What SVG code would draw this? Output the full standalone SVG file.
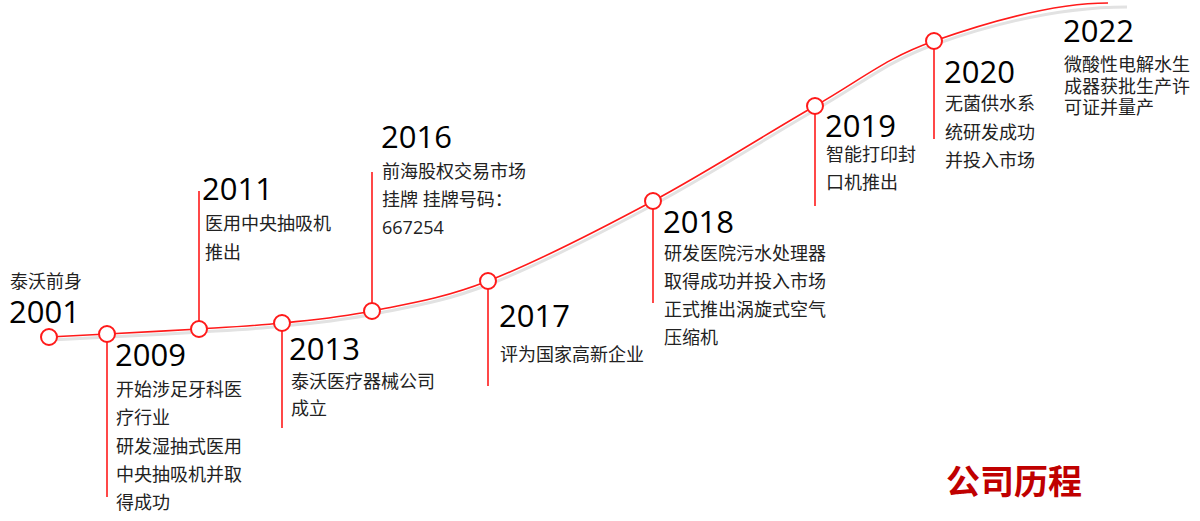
<svg xmlns="http://www.w3.org/2000/svg" width="1200" height="521" viewBox="0 0 1200 521">
<style>
.yr{font-family:"Open Sans","Noto Sans CJK SC",sans-serif;font-size:31px;fill:#000}
.tx{font-family:"Open Sans","Noto Sans CJK SC",sans-serif;font-size:18px;fill:#222}
.stem{stroke:#ff1a1a;stroke-width:1.6;fill:none}
.dot{fill:#fff;stroke:#ff1a1a;stroke-width:2}
.title{font-family:"Noto Sans CJK SC",sans-serif;font-size:34px;font-weight:bold;fill:#c00000}
</style>
<rect width="1200" height="521" fill="#fff"/>
<g id="connectors">
<path d="M49,337 C58.7,336.5 82,335.3 107,334 C132,332.7 169.8,330.8 199,329 C228.2,327.2 253.2,326 282,323 C310.8,320 337.7,318 372,311 C406.3,304 441.2,299.3 488,281 C534.8,262.7 598.5,230.2 653,201 C707.5,171.8 768.2,132.7 815,106 C861.8,79.3 885.2,58.2 934,41 C982.8,23.8 1050,4 1125,4" fill="none" stroke="#e2e2e2" stroke-width="3" transform="translate(2,3)"/>
<path d="M49,337 C58.7,336.5 82,335.3 107,334 C132,332.7 169.8,330.8 199,329 C228.2,327.2 253.2,326 282,323 C310.8,320 337.7,318 372,311 C406.3,304 441.2,299.3 488,281 C534.8,262.7 598.5,230.2 653,201 C707.5,171.8 768.2,132.7 815,106 C861.8,79.3 885.2,58.2 934,41 C982.8,23.8 1050,3 1108,3" fill="none" stroke="#ff1a1a" stroke-width="1.6"/>
<line class="stem" x1="107" y1="334" x2="107" y2="497"/>
<line class="stem" x1="199" y1="329" x2="199" y2="191"/>
<line class="stem" x1="282" y1="323" x2="282" y2="428"/>
<line class="stem" x1="372" y1="311" x2="372" y2="172"/>
<line class="stem" x1="488" y1="281" x2="488" y2="386"/>
<line class="stem" x1="653" y1="201" x2="653" y2="303"/>
<line class="stem" x1="815" y1="106" x2="815" y2="206"/>
<line class="stem" x1="934" y1="41" x2="934" y2="139"/>
</g>
<g id="n2001">
<circle class="dot" cx="49" cy="337" r="8"/>
<text class="tx" x="10" y="288">泰沃前身</text>
<text class="yr" x="9" y="323">2001</text>
</g>
<g id="n2009">
<circle class="dot" cx="107" cy="334" r="8"/>
<text class="yr" x="115" y="366">2009</text>
<text class="tx" x="116" y="396">开始涉足牙科医</text>
<text class="tx" x="116" y="424">疗行业</text>
<text class="tx" x="116" y="453">研发湿抽式医用</text>
<text class="tx" x="116" y="481">中央抽吸机并取</text>
<text class="tx" x="116" y="509">得成功</text>
</g>
<g id="n2011">
<circle class="dot" cx="199" cy="329" r="8"/>
<text class="yr" x="202" y="200">2011</text>
<text class="tx" x="205" y="230">医用中央抽吸机</text>
<text class="tx" x="205" y="259">推出</text>
</g>
<g id="n2013">
<circle class="dot" cx="282" cy="323" r="8"/>
<text class="yr" x="289" y="360">2013</text>
<text class="tx" x="291" y="388">泰沃医疗器械公司</text>
<text class="tx" x="291" y="415">成立</text>
</g>
<g id="n2016">
<circle class="dot" cx="372" cy="311" r="8"/>
<text class="yr" x="381" y="148">2016</text>
<text class="tx" x="382" y="178">前海股权交易市场</text>
<text class="tx" x="382" y="206">挂牌 挂牌号码：</text>
<text class="tx" x="382" y="234">667254</text>
</g>
<g id="n2017">
<circle class="dot" cx="488" cy="281" r="8"/>
<text class="yr" x="499" y="327">2017</text>
<text class="tx" x="500" y="361">评为国家高新企业</text>
</g>
<g id="n2018">
<circle class="dot" cx="653" cy="201" r="8"/>
<text class="yr" x="663" y="233">2018</text>
<text class="tx" x="664" y="260">研发医院污水处理器</text>
<text class="tx" x="664" y="288">取得成功并投入市场</text>
<text class="tx" x="664" y="316">正式推出涡旋式空气</text>
<text class="tx" x="664" y="344">压缩机</text>
</g>
<g id="n2019">
<circle class="dot" cx="815" cy="106" r="8"/>
<text class="yr" x="825" y="137">2019</text>
<text class="tx" x="826" y="161">智能打印封</text>
<text class="tx" x="826" y="189">口机推出</text>
</g>
<g id="n2020">
<circle class="dot" cx="934" cy="41" r="8"/>
<text class="yr" x="944" y="83">2020</text>
<text class="tx" x="945" y="110">无菌供水系</text>
<text class="tx" x="945" y="139">统研发成功</text>
<text class="tx" x="945" y="167">并投入市场</text>
</g>
<g id="n2022">
<text class="yr" x="1063" y="42">2022</text>
<text class="tx" x="1064" y="71">微酸性电解水生</text>
<text class="tx" x="1064" y="93">成器获批生产许</text>
<text class="tx" x="1064" y="114">可证并量产</text>
</g>
<g id="title">
<text class="title" x="946" y="494">公司历程</text>
</g>
</svg>
